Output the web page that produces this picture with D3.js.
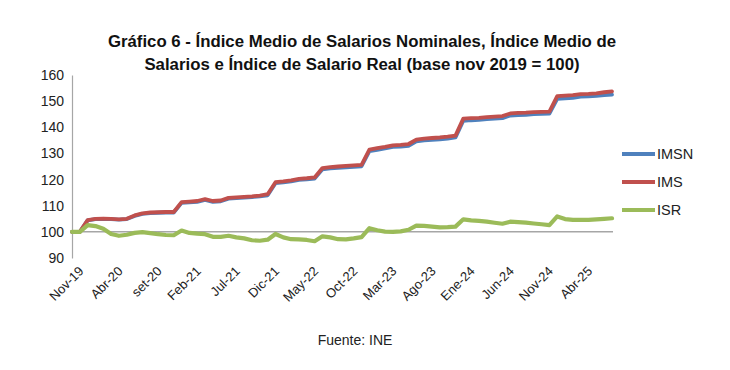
<!DOCTYPE html>
<html>
<head>
<meta charset="utf-8">
<script src="https://cdnjs.cloudflare.com/ajax/libs/d3/7.8.5/d3.min.js"></script>
<style>
  body { margin: 0; background: #fff; }
  svg { display: block; font-family: 'Liberation Sans', Arial, sans-serif; }
</style>
</head>
<body>
<div class="chart"></div>
<script>
// monthly categories Nov-19 .. Ago-25
var monthNames = ['Ene', 'Feb', 'Mar', 'Abr', 'May', 'Jun', 'Jul', 'Ago', 'set', 'Oct', 'Nov', 'Dic']
var months = []
for (var i = 0; i < 70; i++){
  var m = (10 + i) % 12, yr = 19 + Math.floor((10 + i) / 12)
  months.push(monthNames[m] + '-' + yr)
}
var tickLabels = ['Nov-19', 'Abr-20', 'set-20', 'Feb-21', 'Jul-21', 'Dic-21', 'May-22',
  'Oct-22', 'Mar-23', 'Ago-23', 'Ene-24', 'Jun-24', 'Nov-24', 'Abr-25']
var yTicks = [90, 100, 110, 120, 130, 140, 150, 160]

var ims = [100, 100, 104.5, 105.0, 105.1, 105.0, 104.8, 105.0, 106.3, 107.1,
  107.4, 107.5, 107.6, 107.6, 111.4, 111.6, 111.8, 112.5, 111.8, 112.0,
  113.0, 113.2, 113.4, 113.6, 113.9, 114.4, 119.0, 119.3, 119.7, 120.3,
  120.5, 120.8, 124.4, 124.8, 125.0, 125.2, 125.4, 125.6, 131.5, 132.0,
  132.5, 133.1, 133.3, 133.6, 135.3, 135.7, 135.9, 136.1, 136.4, 136.8,
  143.3, 143.5, 143.6, 143.9, 144.1, 144.3, 145.3, 145.5, 145.6, 145.8,
  145.9, 146.0, 151.9, 152.1, 152.3, 152.7, 152.8, 153.0, 153.4, 153.7]
var imsn = [100, 100, 104.4, 104.9, 105.0, 104.9, 104.7, 104.9, 106.1, 106.9,
  107.2, 107.3, 107.4, 107.4, 111.1, 111.3, 111.5, 112.2, 111.5, 111.7,
  112.7, 112.9, 113.1, 113.3, 113.6, 114.0, 118.6, 118.9, 119.3, 119.9,
  120.1, 120.4, 123.9, 124.3, 124.5, 124.7, 124.9, 125.1, 130.9, 131.4,
  131.9, 132.5, 132.6, 132.9, 134.6, 135.0, 135.2, 135.4, 135.7, 136.1,
  142.5, 142.7, 142.8, 143.1, 143.3, 143.5, 144.5, 144.7, 144.8, 145.0,
  145.1, 145.2, 150.9, 151.1, 151.3, 151.7, 151.8, 152.0, 152.3, 152.5]
var isr = [100, 100, 102.6, 102.2, 101.2, 99.2, 98.5, 98.9, 99.6, 99.9,
  99.5, 99.1, 98.8, 98.7, 100.5, 99.6, 99.3, 99.1, 98.1, 98.1,
  98.5, 97.9, 97.5, 96.8, 96.6, 97.0, 99.2, 97.9, 97.2, 97.1,
  96.9, 96.4, 98.3, 97.9, 97.2, 97.1, 97.5, 98.0, 101.4, 100.6,
  100.1, 100.0, 100.2, 100.8, 102.4, 102.3, 102.0, 101.7, 101.8, 102.0,
  104.8, 104.4, 104.2, 103.9, 103.5, 103.1, 103.9, 103.7, 103.5, 103.2,
  102.9, 102.6, 105.9, 104.9, 104.6, 104.6, 104.6, 104.8, 105.0, 105.2]

var series = [
  {name: 'IMSN', values: imsn, color: '#4F81BD'},
  {name: 'IMS',  values: ims,  color: '#C0504D'},
  {name: 'ISR',  values: isr,  color: '#9BBB59'}
]

var W = 730, H = 370
var margin = {top: 75, left: 72, right: 118, bottom: 112}
var width = W - margin.left - margin.right
var height = H - margin.top - margin.bottom

var svg = d3.select('.chart').append('svg').attr('width', W).attr('height', H)
var g = svg.append('g').attr('transform', 'translate(' + margin.left + ',' + margin.top + ')')

var x = d3.scalePoint().domain(months).range([0, width])
var y = d3.scaleLinear().domain([90, 160]).range([height, 0])

// title
var title = svg.append('text').attr('text-anchor', 'middle')
  .attr('font-size', 16.8).attr('font-weight', 700).attr('fill', '#111')
title.append('tspan').attr('x', 362).attr('y', 47)
  .text('Gráfico 6 - Índice Medio de Salarios Nominales, Índice Medio de')
title.append('tspan').attr('x', 362).attr('y', 70)
  .text('Salarios e Índice de Salario Real (base nov 2019 = 100)')

// y axis
var yAxis = g.append('g').call(d3.axisLeft(y).tickValues(yTicks).tickSize(0).tickPadding(8))
yAxis.select('.domain').attr('stroke', '#A6A6A6').attr('stroke-width', 1.2)
yAxis.selectAll('text').attr('font-size', 14).attr('fill', '#222')
  .attr('font-family', 'Liberation Sans, Arial, sans-serif')

// base line at 100
g.append('line').attr('x1', 0).attr('x2', width + 1).attr('y1', y(100)).attr('y2', y(100))
  .attr('stroke', '#A6A6A6').attr('stroke-width', 1.5)

// x axis labels (rotated)
var xAxis = g.append('g').attr('transform', 'translate(0,' + (height + 7) + ')')
  .call(d3.axisBottom(x).tickValues(tickLabels).tickSize(0).tickPadding(0))
xAxis.select('.domain').remove()
xAxis.selectAll('text')
  .attr('font-size', 13).attr('fill', '#222')
  .attr('font-family', 'Liberation Sans, Arial, sans-serif')
  .attr('text-anchor', 'end').attr('dy', '0.75em')
  .attr('transform', 'translate(5,0) rotate(-45)')

// lines
var line = d3.line().x(function(d, i){ return x(months[i]) }).y(function(d){ return y(d) })
series.forEach(function(s){
  g.append('path').attr('d', line(s.values))
    .attr('fill', 'none').attr('stroke', s.color).attr('stroke-width', s.name == 'ISR' ? 4.2 : 3.8)
    .attr('stroke-linejoin', 'round').attr('stroke-linecap', 'round')
})

// legend
var leg = svg.append('g').attr('transform', 'translate(622,154)')
series.forEach(function(s, i){
  var r = leg.append('g').attr('transform', 'translate(0,' + (i * 28) + ')')
  r.append('line').attr('x1', 0).attr('x2', 33).attr('stroke', s.color).attr('stroke-width', 4)
  r.append('text').attr('x', 35).attr('y', 5).attr('font-size', 14.5).attr('fill', '#222').text(s.name)
})

// source
svg.append('text').attr('x', 355).attr('y', 345).attr('text-anchor', 'middle')
  .attr('font-size', 14).attr('fill', '#222').text('Fuente: INE')
</script>
</body>
</html>
